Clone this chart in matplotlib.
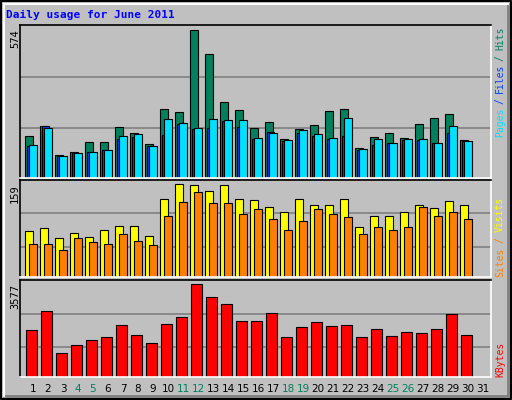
import matplotlib
matplotlib.use("Agg")
import matplotlib.pyplot as plt
import numpy as np

days = list(range(1, 32))
hits = [161,200,87,99,138,138,196,173,130,266,255,574,480,293,262,192,216,149,188,204,258,266,114,157,173,153,208,231,247,145,0]
files = [122,200,83,95,99,106,149,157,122,165,208,188,192,219,196,149,177,142,173,161,149,161,106,126,134,145,145,134,173,142,0]
pages = [126,192,83,95,99,106,161,169,122,227,212,192,227,223,223,153,173,145,184,169,153,231,110,149,134,149,149,134,200,142,0]
sites = [79.5,84.7,67.4,76,69,81,88,88,71,133,159,157,147,157,133,131,119,112,133,124,124,133,85,104,105,111,124,118,130,124,0]
visits = [57,57,47,66,60,57,74,62,54,104,128,145,126,126,107,116,100,81,95,117,107,102,73,85,81,86,119,104,111,100,0]
kbytes = [1808,2555,943,1219,1415,1533,2005,1612,1297,2044,2319,3577,3066,2791,2162,2162,2476,1533,1926,2123,1965,2005,1533,1847,1572,1730,1690,1847,2437,1612,0]
weekends = [4,5,11,12,18,19,25,26]

W, H = 512, 400
BG = "#C0C0C0"
fig = plt.figure(figsize=(W/100, H/100), dpi=100, facecolor=BG)
MONO = "DejaVu Sans Mono"

def ax_px(x0, y0, x1, y1):
    return fig.add_axes([x0/W, 1-y1/H, (x1-x0)/W, (y1-y0)/H])

def style(ax, ymax, grids):
    ax.set_facecolor(BG)
    ax.set_xlim(0.667, 32.07)
    ax.set_ylim(0, ymax)
    ax.set_xticks([]); ax.set_yticks([])
    for y in grids:
        ax.axhline(y, color="#808080", lw=1.2, zorder=0)
    for s in ["top", "left"]:
        ax.spines[s].set_color("black")
    for s in ["bottom", "right"]:
        ax.spines[s].set_color("white")
    for s in ax.spines.values():
        s.set_linewidth(1.2)

d = np.array(days, dtype=float)
px = 1/15.0
ek = dict(edgecolor="black", linewidth=0.8, align="edge")

ax1 = ax_px(20, 25, 491, 177.5)
style(ax1, 592, [389, 192])
ax1.bar(d, hits, width=7.7*px, color="#00805C", **ek)
ax1.bar(d+1.7*px, files, width=7.7*px, color="#0040FF", **ek)
ax1.bar(d+4.3*px, pages, width=7.4*px, color="#00E0FF", **ek)

ax2 = ax_px(20, 180, 491, 277)
style(ax2, 166, [109, 52])
ax2.bar(d, sites, width=8.3*px, color="#FFFF00", **ek)
ax2.bar(d+4.3*px, visits, width=7.4*px, color="#FF8000", **ek)

ax3 = ax_px(20, 280, 491, 377)
style(ax3, 3734, [2437, 1140])
ax3.bar(d+1*px, kbytes, width=10.7*px, color="#FF0000", **ek)

for i in days:
    xf = (25 + 15*(i-1) + 8) / W
    fig.text(xf, 1-389/H, str(i), ha="center", va="center", fontsize=7.5,
             color="#00805C" if i in weekends else "black")

fig.text(6/W, 1-15/H, "Daily usage for June 2011", fontsize=8, fontweight="bold",
         family=MONO, color="#0000FF", va="center", ha="left")

for y, t in [(29, "574"), (184, "159"), (284, "3577")]:
    fig.text(15/W, 1-y/H, t, rotation=90, fontsize=7.5, family=MONO,
             ha="center", va="top")

def right_label(parts, ybottom, cw):
    idx = 0
    for txt, col in parts:
        if txt.strip():
            y = ybottom - cw*idx
            fig.text(500/W, 1-y/H, txt, rotation=90, fontsize=7, family=MONO,
                     color=col, ha="center", va="bottom")
        idx += len(txt)

right_label([("Pages", "#00E0FF"), (" ", None), ("/", "#0040FF"), (" ", None),
             ("Files", "#0040FF"), (" ", None), ("/", "#00805C"), (" ", None),
             ("Hits", "#00805C")], 137, 5.45)
right_label([("Sites", "#FF8000"), (" ", None), ("/", "#FF8000"), (" ", None),
             ("Visits", "#FFFF00")], 277, 5.6)
right_label([("KBytes", "#FF0000")], 377, 5.9)

frame = fig.add_axes([0, 0, 1, 1], facecolor="none")
frame.set_xticks([]); frame.set_yticks([])
frame.set_xlim(0, W); frame.set_ylim(H, 0)
frame.plot([1, W-1, W-1, 1, 1], [1, 1, H-1, H-1, 1], color="black", lw=1.5)
frame.plot([4, W-4], [H-4, H-4], color="#808080", lw=2)
frame.plot([W-4, W-4], [4, H-4], color="#808080", lw=2)
frame.plot([4, 4], [4, H-4], color="white", lw=1.5)
frame.plot([4, W-4], [4, 4], color="white", lw=1.5)
for s in frame.spines.values():
    s.set_visible(False)

fig.savefig("out.png", dpi=100, facecolor=BG)
